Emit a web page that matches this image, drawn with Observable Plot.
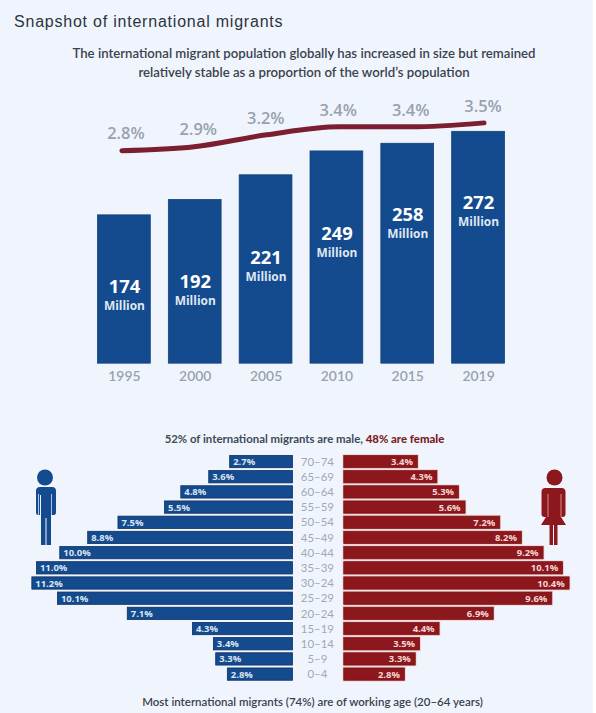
<!DOCTYPE html>
<html><head><meta charset="utf-8">
<script src="https://cdn.jsdelivr.net/npm/d3@7"></script>
<script src="https://cdn.jsdelivr.net/npm/@observablehq/plot@0.6"></script>
<style>
html,body{margin:0;padding:0;background:#fff}
#page{position:relative;width:593px;height:713px;overflow:hidden;background:#f0f5fd}
#page svg{position:absolute;left:0;background:transparent}
.t{position:absolute;white-space:nowrap}
#title{left:14px;top:12px;font:400 16px/20px "Liberation Sans",sans-serif;letter-spacing:.78px;color:#2b3440}
#sub{left:0;width:608px;top:44px;text-align:center;font:600 13.2px/19px Lato,sans-serif;color:#3a424e}
#ptitle{left:0;width:609px;top:432px;text-align:center;font:700 11.4px/14px Lato,sans-serif;color:#404a58}
#ptitle b{color:#7d1c26}
#foot{left:0;width:625px;top:695px;text-align:center;font:600 11.5px/14px Lato,sans-serif;color:#3a424e}
</style></head>
<body><div id="page">
<div class="t" id="title">Snapshot of international migrants</div>
<div class="t" id="sub">The international migrant population globally has increased in size but remained<br>relatively stable as a proportion of the world’s population</div>
<div class="t" id="ptitle">52% of international migrants are male, <b>48% are female</b></div>
<div class="t" id="foot">Most international migrants (74%) are of working age (20–64 years)</div>
</div>
<script>
const years=["1995","2000","2005","2010","2015","2019"];
const millions=[174,192,221,249,258,272];
const sharePct=[2.8,2.9,3.2,3.4,3.4,3.5];
const ages=["70–74","65–69","60–64","55–59","50–54","45–49","40–44","35–39","30–24","25–29","20–24","15–19","10–14","5–9","0–4"];
const male=[2.7,3.6,4.8,5.5,7.5,8.8,10.0,11.0,11.2,10.1,7.1,4.3,3.4,3.3,2.8];
const female=[3.4,4.3,5.3,5.6,7.2,8.2,9.2,10.1,10.4,9.6,6.9,4.4,3.5,3.3,2.8];

const BLUE="#144a8e",RED="#8c171c",W=596,H=713,BG="#f0f5fd";
const page=document.getElementById("page");
const base={width:W,height:H,margin:0,style:{background:"transparent",overflow:"visible"}};
const add=p=>{p.style.top="0";page.appendChild(p)};

// bars
const popRows=years.map((y,i)=>({y,v:millions[i]}));
const shallow=[174,258,272];
const high=popRows.filter(d=>shallow.includes(d.v)), low=popRows.filter(d=>!shallow.includes(d.v));
const num={x:"y",y:"v",text:"v",fill:"#fff",fontSize:18.5,fontWeight:700,fontFamily:"Open Sans"};
const unit={x:"y",y:"v",text:()=>"Million",fill:"#dfe8f3",fontSize:12,fontWeight:700,fontFamily:"Open Sans"};
add(Plot.plot({...base,
  x:{domain:years,range:[98,507],paddingInner:.255,paddingOuter:0,align:0,round:false,axis:null},
  y:{domain:[0,272],range:[365,132],axis:null},
  marks:[
    Plot.barY(popRows,{x:"y",y:"v",fill:BLUE,stroke:"#11407e",strokeWidth:.8}),
    Plot.text(popRows,{x:"y",y:0,text:"y",dy:13,fill:"#98a1ad",fontSize:14,fontWeight:600,fontFamily:"Lato"}),
    Plot.text(high,{...num,dy:72}),
    Plot.text(low,{...num,dy:83}),
    Plot.text(high,{...unit,dy:91}),
    Plot.text(low,{...unit,dy:102})
  ]}));

// share line
const shareRows=years.map((y,i)=>({y,v:sharePct[i]}));
const pct=d=>d.v.toFixed(1)+"%";
const pctStyle={x:"y",y:"v",text:pct,fill:"#98a1ad",fontSize:16.5,fontWeight:600,fontFamily:"Open Sans"};
add(Plot.plot({...base,
  x:{type:"point",domain:years,range:[122,486],padding:0,round:false,axis:null},
  y:{domain:[2.8,3.5],range:[151,123],axis:null},
  marks:[
    Plot.line(shareRows,{x:"y",y:"v",stroke:"#7b1e30",strokeWidth:5,curve:"monotone-x",strokeLinecap:"round"}),
    Plot.text(shareRows.filter(d=>d.v<3),{...pctStyle,dx:4,dy:-17}),
    Plot.text(shareRows.filter(d=>d.v>=3),{...pctStyle,dx:-1,dy:-16})
  ]}));

// pyramid
const ageY={type:"band",domain:ages,range:[457.7,683.7],paddingInner:.19,paddingOuter:0,align:0,round:false,axis:null};
const mRows=ages.map((a,i)=>({a,v:male[i]}));
const fRows=ages.map((a,i)=>({a,v:female[i]}));
add(Plot.plot({...base,y:ageY,
  x:{domain:[0,11.2],range:[294,32],axis:null},
  marks:[
    Plot.barX(mRows,{y:"a",x:"v",fill:BLUE,stroke:"#0f2f63",strokeWidth:.8}),
    Plot.text(mRows,{y:"a",x:"v",text:pct,textAnchor:"start",dx:3,fill:"#dbe5f1",fontSize:9.5,fontWeight:700,fontFamily:"Open Sans"})
  ]}));
add(Plot.plot({...base,y:ageY,
  x:{domain:[0,10.4],range:[345.5,572],axis:null},
  marks:[
    Plot.barX(fRows,{y:"a",x:"v",fill:"none",stroke:"#f8c6c6",strokeWidth:2.4}),
    Plot.barX(fRows,{y:"a",x:"v",fill:RED,stroke:"#6f1216",strokeWidth:.7}),
    Plot.text(fRows,{y:"a",x:"v",text:pct,textAnchor:"end",dx:-5,fill:"#f4d6d6",fontSize:9.5,fontWeight:700,fontFamily:"Open Sans"}),
    Plot.text(fRows,{y:"a",x:0,text:"a",dx:-27,fill:"#a0a8b4",fontSize:11.5,fontWeight:400,fontFamily:"Lato"})
  ]}));

// pictograms
const icon=(color,skirt)=>{
  const ns="http://www.w3.org/2000/svg";
  const s=document.createElementNS(ns,"svg");
  s.setAttribute("width",596);s.setAttribute("height",713);s.style.top="0";
  const g=document.createElementNS(ns,"g");
  g.setAttribute("transform",`translate(${skirt?554.5:45},0)`);g.setAttribute("fill",color);
  const body=skirt
   ?"M-7 488h14q4 0 4 4v22q0 3-3 3h-1.5l5 8h-8.5v20h-3.5v-20h-1v20h-3.5v-20h-8.5l5-8h-1.5q-3 0-3-3v-22q0-4 4-4z"
   :"M-7 487h14q4 0 4 4v21q0 3-2 3h-2v-20h-1v50h-4.5v-27h-1v27h-4.5v-50h-1v20h-2q-2 0-2-3v-21q0-4 4-4z";
  const slit=skirt?`<path d="M-6.5 494V517M6.5 494V517" stroke="#d98a8a" stroke-width="1" fill="none"/>`
                  :`<path d="M-6.5 494V515M6.5 494V515" stroke="#a9c4e6" stroke-width="1" fill="none"/>`;
  g.innerHTML=`<circle cx="0" cy="477.5" r="8"/><path d="${body}"/>${slit}`;
  s.appendChild(g);page.appendChild(s);
};
icon(BLUE,false);icon(RED,true);
</script></body></html>
